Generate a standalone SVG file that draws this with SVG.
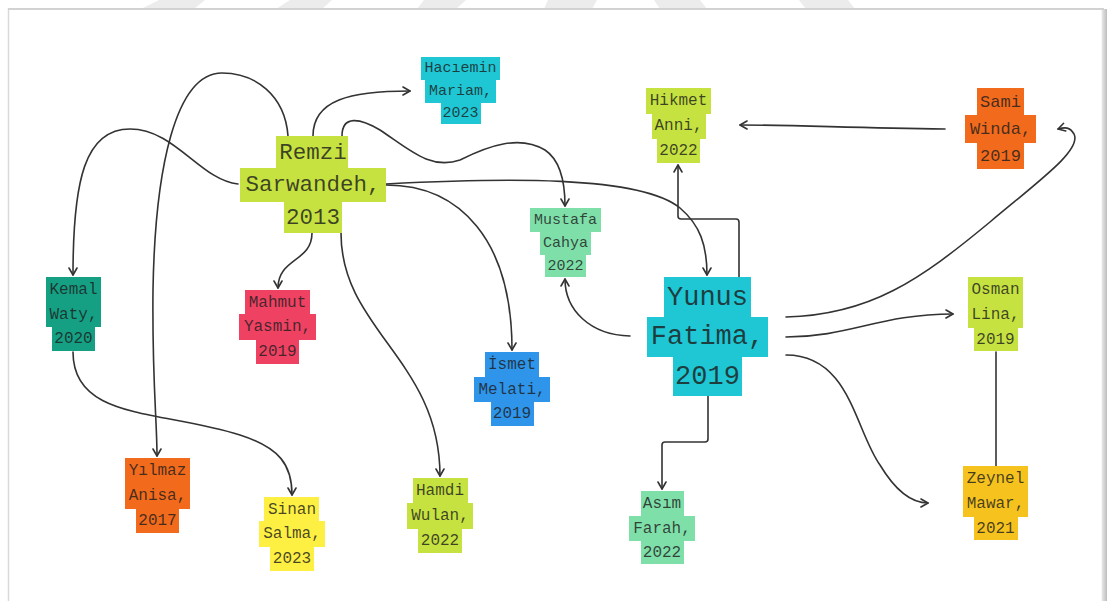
<svg xmlns="http://www.w3.org/2000/svg" width="1108" height="601" viewBox="0 0 1108 601">
<defs>
<marker id="arr" viewBox="0 0 10 10" refX="8" refY="5" markerWidth="10" markerHeight="10" markerUnits="userSpaceOnUse" orient="auto">
<path d="M1,1 L8,5 L1,9" fill="none" stroke="#333" stroke-width="1.6" stroke-linecap="round" stroke-linejoin="round"/>
</marker>
<linearGradient id="shadow" x1="0" x2="1" y1="0" y2="0">
<stop offset="0" stop-color="#e6e6e6"/>
<stop offset="1" stop-color="#bdbdbd"/>
</linearGradient>
</defs>
<style>
.t{font-family:"Liberation Mono","DejaVu Sans Mono",monospace;fill:#1e1e1e;fill-opacity:0.82;text-anchor:middle;dominant-baseline:central}
.s15{font-size:15px}.s16{font-size:16px}.s17{font-size:17px}.s22{font-size:22.5px}.s27{font-size:27px}
.lime{fill:#c6e240}.cyan{fill:#1fc6d3}.teal{fill:#15a084}.red{fill:#ef4263}.mint{fill:#7fdfa9}
.blue{fill:#2f95ea}.orange{fill:#f26a1c}.yellow{fill:#fdf043}.amber{fill:#f6c31e}
.c{fill:none;stroke:#333;stroke-width:1.6;stroke-linecap:round;stroke-linejoin:round}
.a{marker-end:url(#arr)}
</style>
<rect x="0" y="0" width="1108" height="601" fill="#ffffff"/>
<g id="watermark" fill="#ececec">
<polygon points="159,0 205,0 194,9 141,9"/>
<polygon points="290,0 332,0 322,9 276,9"/>
<polygon points="424,0 466,0 456,9 417,9"/>
<polygon points="548,0 597,0 592,9 544,9"/>
<polygon points="654,0 700,0 707,9 660,9"/>
<polygon points="799,0 848,0 855,9 806,9"/>
</g>
<g id="frame">
<rect x="8.5" y="9" width="1094" height="600" fill="#ffffff" stroke="#d9d9d9" stroke-width="1.5"/>
<rect x="1102" y="9" width="5" height="592" fill="url(#shadow)"/>
<line x1="8" y1="9" x2="1104" y2="9" stroke="#d2d2d2" stroke-width="2"/>
</g>
<g id="connectors">
<path class="c a" d="M313,136 C313,100 350,91 410,91"/>
<path class="c a" d="M288,136 C285,95 255,73 222,73 C175,73 155,170 153,290 C152,380 157,420 157,456"/>
<path class="c a" d="M238,184 C200,180 175,129 130,129 C85,129 73,180 73,275"/>
<path class="c a" d="M73,352 C73,420 160,410 240,435 C280,448 292,465 292,495"/>
<path class="c a" d="M312,233 C312,262 278,258 278,288"/>
<path class="c a" d="M341,233 C341,330 440,360 440,476"/>
<path class="c a" d="M386,185 C460,185 512,240 512,350"/>
<path class="c a" d="M386,184 C500,178 640,175 680,208 C700,225 707,245 707,275"/>
<path class="c a" d="M342,136 C342,115 360,118 380,130 C410,150 430,170 460,160 C490,145 520,135 545,150 C560,160 565,180 565,206"/>
<path class="c a" d="M630,336 C590,335 565,310 565,279"/>
<path class="c a" d="M739,277 L739,222 Q739,219 736,219 L681,219 Q678,219 678,216 L678,165"/>
<path class="c a" d="M945,129 C850,128 800,125 740,125"/>
<path class="c a" d="M786,317 C870,315 920,280 990,222 C1040,180 1082,150 1074,134 C1070,127 1065,127 1058,129"/>
<path class="c a" d="M786,337 C850,337 880,314 953,314"/>
<path class="c a" d="M786,355 C850,355 855,430 880,465 C895,490 910,503 928,503"/>
<path class="c" d="M996,352 L996,466"/>
<path class="c a" d="M708,396 L708,439 Q708,442 705,442 L665,442 Q662,442 662,445 L662,489"/>
</g>
<g id="remzi">
<rect class="lime" x="276" y="136" width="72" height="33"/>
<rect class="lime" x="240" y="168" width="146" height="34"/>
<rect class="lime" x="284" y="201" width="58" height="32"/>
<text class="t s22" x="313" y="152.5">Remzi</text>
<text class="t s22" x="313" y="185">Sarwandeh,</text>
<text class="t s22" x="313" y="217.5">2013</text>
</g>
<g id="haciemin">
<rect class="cyan" x="421" y="57" width="79" height="23"/>
<rect class="cyan" x="425" y="79" width="71" height="24"/>
<rect class="cyan" x="441" y="102" width="40" height="22"/>
<text class="t s15" x="460.5" y="68.5">Hacıemin</text>
<text class="t s15" x="460.5" y="91">Mariam,</text>
<text class="t s15" x="460.5" y="113.5">2023</text>
</g>
<g id="kemal">
<rect class="teal" x="46" y="277" width="55" height="26"/>
<rect class="teal" x="46" y="302" width="55" height="25"/>
<rect class="teal" x="52" y="326" width="43" height="25"/>
<text class="t s16" x="73.5" y="290">Kemal</text>
<text class="t s16" x="73.5" y="314.5">Waty,</text>
<text class="t s16" x="73.5" y="339">2020</text>
</g>
<g id="mahmut">
<rect class="red" x="245" y="290" width="65" height="25"/>
<rect class="red" x="239" y="314" width="77" height="26"/>
<rect class="red" x="256" y="339" width="43" height="25"/>
<text class="t s16" x="277.5" y="302.5">Mahmut</text>
<text class="t s16" x="277.5" y="327">Yasmin,</text>
<text class="t s16" x="277.5" y="352">2019</text>
</g>
<g id="mustafa">
<rect class="mint" x="530" y="208" width="71" height="24"/>
<rect class="mint" x="540" y="231" width="51" height="24"/>
<rect class="mint" x="545" y="254" width="41" height="23"/>
<text class="t s15" x="565.5" y="220">Mustafa</text>
<text class="t s15" x="565.5" y="243">Cahya</text>
<text class="t s15" x="565.5" y="266">2022</text>
</g>
<g id="ismet">
<rect class="blue" x="485" y="352" width="54" height="26"/>
<rect class="blue" x="474" y="377" width="76" height="25"/>
<rect class="blue" x="491" y="401" width="43" height="25"/>
<text class="t s16" x="512" y="365">İsmet</text>
<text class="t s16" x="512" y="389.5">Melati,</text>
<text class="t s16" x="512" y="414">2019</text>
</g>
<g id="yunus">
<rect class="cyan" x="664" y="277" width="87" height="41"/>
<rect class="cyan" x="647" y="317" width="121" height="40"/>
<rect class="cyan" x="673" y="356" width="69" height="40"/>
<text class="t s27" x="707.5" y="297.5">Yunus</text>
<text class="t s27" x="707.5" y="337">Fatima,</text>
<text class="t s27" x="707.5" y="376.5">2019</text>
</g>
<g id="hikmet">
<rect class="lime" x="646" y="88" width="65" height="26"/>
<rect class="lime" x="652" y="113" width="54" height="26"/>
<rect class="lime" x="657" y="138" width="43" height="25"/>
<text class="t s16" x="678.5" y="101">Hikmet</text>
<text class="t s16" x="678.5" y="126">Anni,</text>
<text class="t s16" x="678.5" y="151">2022</text>
</g>
<g id="sami">
<rect class="orange" x="977" y="88" width="47" height="28"/>
<rect class="orange" x="965" y="115" width="71" height="28"/>
<rect class="orange" x="977" y="142" width="47" height="27"/>
<text class="t s17" x="1000.5" y="102">Sami</text>
<text class="t s17" x="1000.5" y="129">Winda,</text>
<text class="t s17" x="1000.5" y="156">2019</text>
</g>
<g id="osman">
<rect class="lime" x="968" y="277" width="55" height="26"/>
<rect class="lime" x="968" y="302" width="55" height="26"/>
<rect class="lime" x="974" y="327" width="44" height="24"/>
<text class="t s16" x="995.5" y="290">Osman</text>
<text class="t s16" x="995.5" y="315">Lina,</text>
<text class="t s16" x="995.5" y="339.5">2019</text>
</g>
<g id="zeynel">
<rect class="amber" x="963" y="466" width="65" height="26"/>
<rect class="amber" x="963" y="491" width="65" height="26"/>
<rect class="amber" x="974" y="516" width="44" height="24"/>
<text class="t s16" x="995.5" y="479">Zeynel</text>
<text class="t s16" x="995.5" y="504">Mawar,</text>
<text class="t s16" x="995.5" y="528.5">2021</text>
</g>
<g id="asim">
<rect class="mint" x="641" y="491" width="43" height="26"/>
<rect class="mint" x="629" y="516" width="66" height="25"/>
<rect class="mint" x="641" y="540" width="43" height="24"/>
<text class="t s16" x="662" y="504">Asım</text>
<text class="t s16" x="662" y="528.5">Farah,</text>
<text class="t s16" x="662" y="552.5">2022</text>
</g>
<g id="yilmaz">
<rect class="orange" x="125" y="458" width="65" height="26"/>
<rect class="orange" x="125" y="483" width="65" height="26"/>
<rect class="orange" x="136" y="508" width="43" height="25"/>
<text class="t s16" x="157.5" y="471">Yılmaz</text>
<text class="t s16" x="157.5" y="496">Anisa,</text>
<text class="t s16" x="157.5" y="521">2017</text>
</g>
<g id="sinan">
<rect class="yellow" x="264" y="497" width="55" height="25"/>
<rect class="yellow" x="259" y="521" width="66" height="26"/>
<rect class="yellow" x="270" y="546" width="44" height="25"/>
<text class="t s16" x="292" y="509.5">Sinan</text>
<text class="t s16" x="292" y="534">Salma,</text>
<text class="t s16" x="292" y="559">2023</text>
</g>
<g id="hamdi">
<rect class="lime" x="413" y="478" width="55" height="26"/>
<rect class="lime" x="407" y="503" width="66" height="26"/>
<rect class="lime" x="418" y="528" width="44" height="25"/>
<text class="t s16" x="440" y="491">Hamdi</text>
<text class="t s16" x="440" y="516">Wulan,</text>
<text class="t s16" x="440" y="541">2022</text>
</g>
</svg>
